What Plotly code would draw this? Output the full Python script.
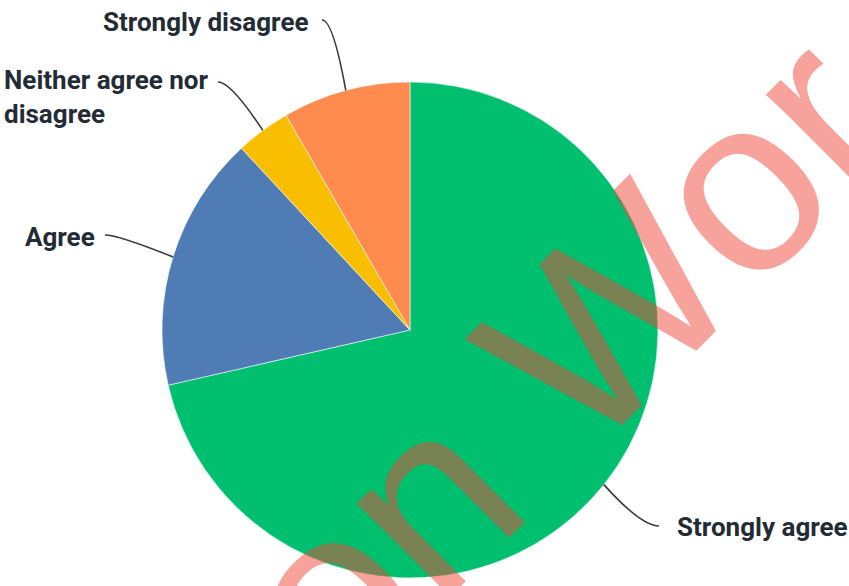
import math
import plotly.graph_objects as go

# Survey responses (share of respondents, %)
categories = ["Strongly agree", "Agree", "Neither agree nor disagree", "Strongly disagree"]
shares = [71.43, 16.67, 3.57, 8.33]
label_text = ["Strongly agree", "Agree", "Neither agree nor<br>disagree", "Strongly disagree"]
colors = ["#00BF6F", "#507CB6", "#F9BE00", "#FF8B4F"]

# Canvas and pie geometry (pixels)
W, H = 849, 586
CX, CY, R = 410, 330, 248

# Where each callout's leader line ends and where its text sits
callouts = {
    "Strongly agree": dict(end=(659, 526), text=(675, 527), xanchor="left", bend=-18),
    "Agree": dict(end=(105, 235), text=(97, 237), xanchor="right", bend=13),
    "Neither agree nor disagree": dict(end=(218, 82), text=(2, 97), xanchor="left", bend=13),
    "Strongly disagree": dict(end=(322, 20), text=(310, 22), xanchor="right", bend=11),
}

LABEL_FONT = dict(family="Roboto", size=26, color="#232b35", weight=700)

fig = go.Figure()

fig.add_trace(go.Pie(
    labels=categories,
    values=shares,
    sort=False,
    direction="clockwise",
    rotation=0,
    marker=dict(colors=colors, line=dict(color="rgba(255,255,255,0.7)", width=0.8)),
    textinfo="none",
    hoverinfo="label+percent",
    showlegend=False,
    domain=dict(x=[(CX - R) / W, (CX + R) / W], y=[(H - CY - R) / H, (H - CY + R) / H]),
))

# Invisible pixel-space axes used to place the callouts
fig.add_trace(go.Scatter(x=[], y=[], showlegend=False, hoverinfo="skip"))

total = sum(shares)
start = 0.0
shapes = []
annotations = []
for cat, val, txt in zip(categories, shares, label_text):
    mid = (start + val / 2) / total * 2 * math.pi
    start += val
    ex = CX + R * math.sin(mid)
    ey = CY - R * math.cos(mid)
    c = callouts[cat]
    tx, ty = c["end"]
    qx, qy = tx + c["bend"], ty
    shapes.append(dict(
        type="path", xref="x", yref="y", layer="above",
        path=f"M {ex:.1f},{ey:.1f} Q {qx:.1f},{qy:.1f} {tx:.1f},{ty:.1f}",
        line=dict(color="#3a3a3a", width=1.6),
    ))
    annotations.append(dict(
        x=c["text"][0], y=c["text"][1], xref="x", yref="y",
        text=txt, showarrow=False, xanchor=c["xanchor"], yanchor="middle",
        align="left", font=LABEL_FONT,
    ))

# Diagonal watermark
annotations.append(dict(
    x=561, y=363, xref="x", yref="y", text="on Wor", showarrow=False,
    textangle=-45, xanchor="center", yanchor="middle",
    font=dict(family="Liberation Sans", size=250, color="rgba(240,70,56,0.5)"),
))

fig.update_layout(
    width=W, height=H,
    margin=dict(l=0, r=0, t=0, b=0),
    paper_bgcolor="white", plot_bgcolor="rgba(0,0,0,0)",
    xaxis=dict(range=[0, W], visible=False, fixedrange=True, domain=[0, 1]),
    yaxis=dict(range=[H, 0], visible=False, fixedrange=True, domain=[0, 1]),
    shapes=shapes,
    annotations=annotations,
)

fig.write_html("out.html")
